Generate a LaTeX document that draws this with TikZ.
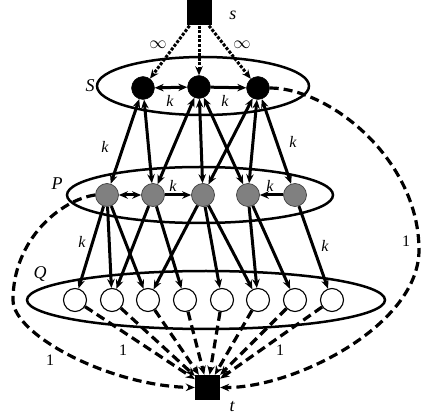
\documentclass[tikz,border=0pt]{standalone}
\usepackage{fontspec}
\setmainfont{Liberation Serif}
\usetikzlibrary{arrows.meta}
\begin{document}
\begin{tikzpicture}[x=1pt,y=-1pt,
  snode/.style={circle,fill=black,draw=black,minimum size=23pt,inner sep=0pt},
  pnode/.style={circle,fill=black!50,draw=black!75,line width=0.7pt,minimum size=23pt,inner sep=0pt},
  qnode/.style={circle,fill=white,draw=black,line width=1.1pt,minimum size=23pt,inner sep=0pt},
  term/.style={rectangle,fill=black,minimum size=25pt,inner sep=0pt},
  group/.style={line width=2.5pt},
  tipend/.style={-{Stealth[length=9pt,width=7.5pt]}},
  flow/.style={line width=3pt,tipend},
  bflow/.style={line width=3pt,{Stealth[length=9pt,width=7.5pt]}-{Stealth[length=9pt,width=7.5pt]}},
  unit/.style={line width=3.2pt,dash pattern=on 9pt off 5pt,tipend},
  infcap/.style={line width=3pt,dash pattern=on 3pt off 1.6pt,tipend},
  lab/.style={font=\fontsize{18}{20}\selectfont\itshape,inner sep=0pt},
  klab/.style={font=\fontsize{16}{18}\selectfont\itshape,inner sep=0pt},
  wt/.style={font=\fontsize{16}{18}\selectfont,inner sep=0pt}
]
\useasboundingbox (0,0) rectangle (424,417);

% group outlines
\draw[group] (203,86) ellipse [x radius=106pt,y radius=29pt];
\draw[group] (200,195) ellipse [x radius=133pt,y radius=28pt];
\draw[group] (206,300) ellipse [x radius=179pt,y radius=29pt];

% source and sink
\node[term] (s) at (199,13) {};
\node[term] (t) at (207.5,387.5) {};

% S layer
\node[snode] (s1) at (143,88) {};
\node[snode] (s2) at (199,87) {};
\node[snode] (s3) at (258,88) {};

% P layer
\node[pnode] (p1) at (107,195) {};
\node[pnode] (p2) at (153,195) {};
\node[pnode] (p3) at (203,195) {};
\node[pnode] (p4) at (248,195) {};
\node[pnode] (p5) at (295,195) {};

% Q layer
\foreach \i/\x in {1/75,2/112,3/148,4/185,5/222,6/258,7/295,8/332}
  \node[qnode] (q\i) at (\x,300) {};

% labels
\node[lab] at (233,15) {s};
\node[lab] at (232,407) {t};
\node[lab] at (90,86) {S};
\node[lab] at (57,184) {P};
\node[lab] at (40,274) {Q};
\node[wt] at (158,45) {$\infty$};
\node[wt] at (242,45) {$\infty$};
\node[klab] at (170,101) {k};
\node[klab] at (225,101) {k};
\node[klab] at (105,147) {k};
\node[klab] at (293,142) {k};
\node[klab] at (173,186) {k};
\node[klab] at (270,186) {k};
\node[klab] at (82,242) {k};
\node[klab] at (325,246) {k};
\node[wt] at (123,350) {1};
\node[wt] at (280,350) {1};
\node[wt] at (50,360) {1};
\node[wt] at (406,241) {1};

% infinite capacity arcs from the source
\draw[infcap] (s) -- (s1);
\draw[infcap] (s) -- (s2);
\draw[infcap] (s) -- (s3);

% arcs inside S and P
\draw[bflow] (s1) -- (s2);
\draw[flow] (s2) -- (s3);
\draw[bflow] (p1) -- (p2);
\draw[flow] (p2) -- (p3);
\draw[flow] (p5) -- (p4);

% S-P arcs
\foreach \a/\b in {s1/p1,s1/p2,s2/p2,s2/p3,s2/p4,s3/p3,s3/p4,s3/p5}
  \draw[bflow] (\a) -- (\b);

% P-Q arcs
\foreach \a/\b in {p1/q1,p1/q2,p1/q3,p2/q2,p2/q4,p3/q3,p3/q5,p3/q6,p4/q6,p4/q7,p5/q8}
  \draw[flow] (\a) -- (\b);

% unit arcs to the sink
\foreach \i in {1,...,8}
  \draw[unit] (q\i) -- (t);
\draw[unit] (s3.east) .. controls (330,88) and (419,160) .. (419,250)
  .. controls (419,325) and (295,388) .. (t.east);
\draw[unit] (p1.west) .. controls (60,200) and (13,240) .. (13,300)
  .. controls (13,335) and (110,386) .. (t.west);
\end{tikzpicture}
\end{document}
